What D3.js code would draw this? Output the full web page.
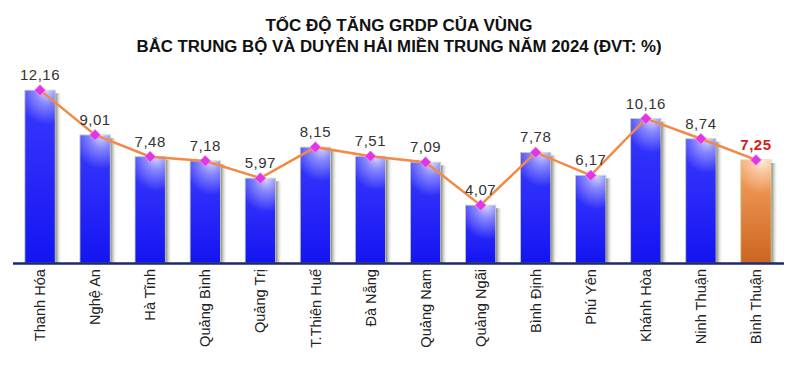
<!DOCTYPE html>
<html>
<head>
<meta charset="utf-8">
<script src="https://cdn.jsdelivr.net/npm/d3@7"></script>
<style>
  body { margin: 0; background: #fff; }
  svg { display: block; }
  .title { font-family: "Liberation Sans Narrow", "Arial Narrow", "Liberation Sans", sans-serif; font-weight: bold; font-size: 16px; fill: #111; }
  .val { font-family: "Liberation Sans", Arial, sans-serif; font-size: 15px; fill: #333; letter-spacing: 0.5px; }
  .x-axis text { font-family: "Liberation Sans", Arial, sans-serif; font-size: 14.6px; fill: #222; }
</style>
</head>
<body>
<svg id="chart" width="798" height="371"></svg>
<script>
const provinces = ["Thanh Hóa", "Nghệ An", "Hà Tĩnh", "Quảng Bình", "Quảng Trị", "T.Thiên Huế", "Đà Nẵng",
  "Quảng Nam", "Quảng Ngãi", "Bình Định", "Phú Yên", "Khánh Hòa", "Ninh Thuận", "Bình Thuận"]
const growth = [12.16, 9.01, 7.48, 7.18, 5.97, 8.15, 7.51, 7.09, 4.07, 7.78, 6.17, 10.16, 8.74, 7.25]
const valueLabels = ["12,16", "9,01", "7,48", "7,18", "5,97", "8,15", "7,51", "7,09", "4,07", "7,78", "6,17", "10,16", "8,74", "7,25"]
const highlight = "Bình Thuận"
const titleLines = ["TỐC ĐỘ TĂNG GRDP CỦA VÙNG", "BẮC TRUNG BỘ VÀ DUYÊN HẢI MIỀN TRUNG NĂM 2024 (ĐVT: %)"]

const data = provinces.map((p, i) => ({ name: p, value: growth[i], label: valueLabels[i] }))

const svg = d3.select("#chart")
const base = 263

const x = d3.scaleBand()
  .domain(provinces)
  .range([12.5, 783.5])
  .paddingInner(0.45)
  .paddingOuter(0.225)

const y = d3.scaleLinear()
  .domain([0, 14])
  .range([base, 64])

// gradients
const defs = svg.append("defs")

const blue = defs.append("linearGradient").attr("id", "blue").attr("x1", 0).attr("y1", 0).attr("x2", 0).attr("y2", 1)
blue.append("stop").attr("offset", "0%").attr("stop-color", "#3a3aff")
blue.append("stop").attr("offset", "100%").attr("stop-color", "#1414f2")

const orange = defs.append("linearGradient").attr("id", "orange").attr("x1", 0).attr("y1", 0).attr("x2", 0).attr("y2", 1)
orange.append("stop").attr("offset", "0%").attr("stop-color", "#f8a462")
orange.append("stop").attr("offset", "100%").attr("stop-color", "#cc6420")

const shine = defs.append("radialGradient").attr("id", "shine")
  .attr("cx", 0.7).attr("cy", 0).attr("r", 0.9)
shine.append("stop").attr("offset", "0%").attr("stop-color", "#fff").attr("stop-opacity", 0.8)
shine.append("stop").attr("offset", "40%").attr("stop-color", "#fff").attr("stop-opacity", 0.4)
shine.append("stop").attr("offset", "100%").attr("stop-color", "#fff").attr("stop-opacity", 0)

const shade = defs.append("linearGradient").attr("id", "shade").attr("x1", 0).attr("y1", 0).attr("x2", 1).attr("y2", 0)
shade.append("stop").attr("offset", "0%").attr("stop-color", "#77786a")
shade.append("stop").attr("offset", "100%").attr("stop-color", "#fff").attr("stop-opacity", 0)

// title
svg.selectAll(".title")
  .data(titleLines)
  .join("text")
  .attr("class", "title")
  .attr("x", 399)
  .attr("y", (d, i) => 31 + i * 21)
  .attr("text-anchor", "middle")
  .attr("textLength", (d, i) => i === 0 ? 267 : 525)
  .attr("lengthAdjust", "spacingAndGlyphs")
  .text(d => d)

// bars
const bars = svg.append("g").selectAll("g")
  .data(data)
  .join("g")

bars.append("rect")
  .attr("x", d => x(d.name) + x.bandwidth())
  .attr("y", d => y(d.value) + 3)
  .attr("width", 7)
  .attr("height", d => base - y(d.value) - 3)
  .attr("fill", "url(#shade)")

bars.append("rect")
  .attr("x", d => x(d.name))
  .attr("y", d => y(d.value))
  .attr("width", x.bandwidth())
  .attr("height", d => base - y(d.value))
  .attr("fill", d => d.name === highlight ? "url(#orange)" : "url(#blue)")
  .attr("stroke", "#c4d09c")
  .attr("stroke-width", 0.8)

bars.append("rect")
  .attr("x", d => x(d.name))
  .attr("y", d => y(d.value))
  .attr("width", x.bandwidth())
  .attr("height", 38)
  .attr("fill", "url(#shine)")

// axis
const xAxis = d3.axisBottom(x).tickSize(0)
const gx = svg.append("g")
  .attr("class", "x-axis")
  .attr("transform", `translate(0,${base})`)
  .call(xAxis)

gx.select(".domain")
  .attr("stroke", "#1b2a6b")
  .attr("stroke-width", 2.5)

gx.selectAll("text")
  .attr("transform", "rotate(-90)")
  .attr("x", -6)
  .attr("y", 0)
  .attr("dy", "0.35em")
  .style("text-anchor", "end")

// line
const cx = d => x(d.name) + x.bandwidth() / 2
const line = d3.line()
  .x(cx)
  .y(d => y(d.value))

svg.append("path")
  .datum(data)
  .attr("d", line)
  .attr("fill", "none")
  .attr("stroke", "#f28a46")
  .attr("stroke-width", 2.5)

svg.append("g").selectAll("path")
  .data(data)
  .join("path")
  .attr("d", d3.symbol().type(d3.symbolSquare).size(62))
  .attr("transform", d => `translate(${cx(d)},${y(d.value)}) rotate(45)`)
  .attr("fill", "#e236e6")
  .attr("stroke", "#f5a8f5")
  .attr("stroke-width", 0.6)

// value labels
svg.append("g").selectAll("text")
  .data(data)
  .join("text")
  .attr("class", "val")
  .attr("x", cx)
  .attr("y", d => y(d.value) - 10)
  .attr("text-anchor", "middle")
  .style("fill", d => d.name === highlight ? "#d41c1c" : null)
  .style("font-weight", d => d.name === highlight ? "bold" : null)
  .text(d => d.label)
</script>
</body>
</html>
